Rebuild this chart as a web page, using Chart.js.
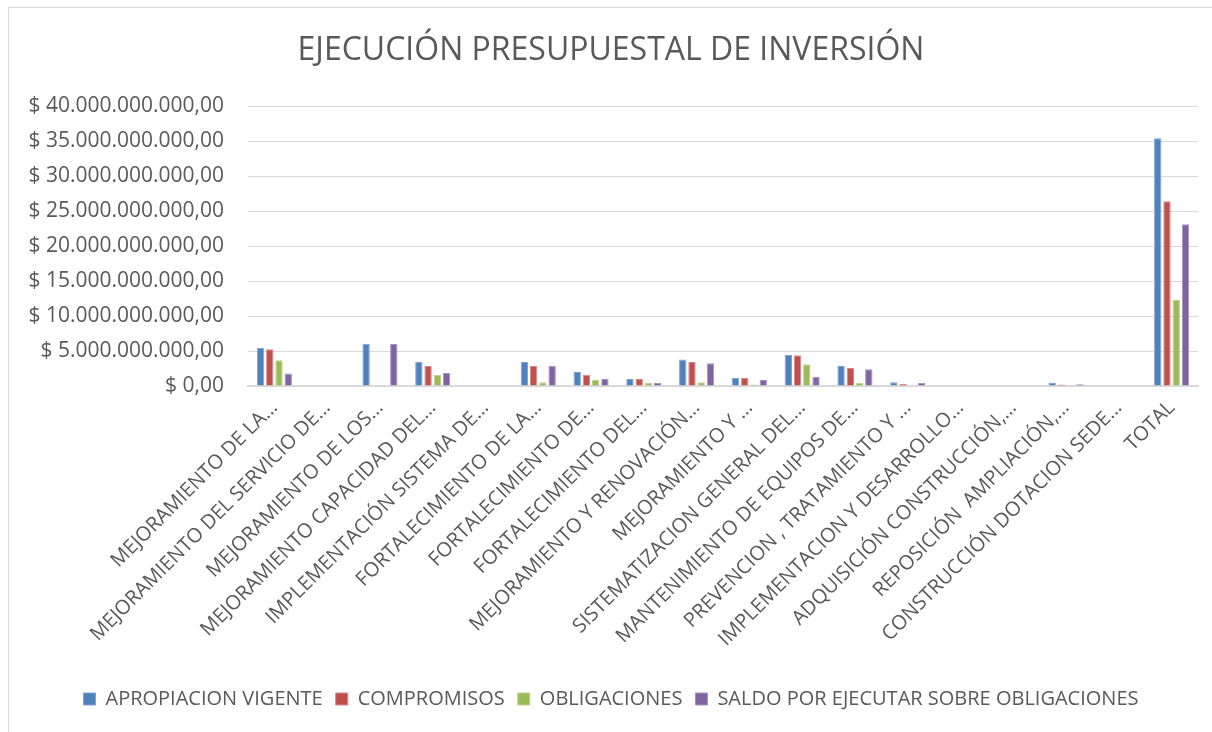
<!DOCTYPE html>
<html>
<head>
<meta charset="utf-8">
<title>Ejecución presupuestal de inversión</title>
<script src="https://cdn.jsdelivr.net/npm/chart.js@4.4.0/dist/chart.umd.min.js"></script>
<style>
    html, body { margin: 0; padding: 0; background: #fff; overflow: hidden; }
    .frame {
        position: absolute; left: 8px; top: 7px;
        width: 1240px; height: 760px;
        border: 1px solid #d9d9d9;
    }
    .wrap { position: absolute; left: 0; top: 0; width: 1212px; height: 732px; }
</style>
</head>
<body>
<div class="frame"></div>
<div class="wrap"><canvas id="inversionChart"></canvas></div>
<script>
// Chart data (pesos)
const categories = [
    'MEJORAMIENTO DE LA…',
    'MEJORAMIENTO DEL SERVICIO DE…',
    'MEJORAMIENTO DE LOS…',
    'MEJORAMIENTO CAPACIDAD DEL…',
    'IMPLEMENTACIÓN SISTEMA DE…',
    'FORTALECIMIENTO DE LA…',
    'FORTALECIMIENTO DE…',
    'FORTALECIMIENTO DEL…',
    'MEJORAMIENTO Y RENOVACIÓN…',
    'MEJORAMIENTO Y …',
    'SISTEMATIZACION GENERAL DEL…',
    'MANTENIMIENTO DE EQUIPOS DE…',
    'PREVENCION , TRATAMIENTO Y …',
    'IMPLEMENTACION Y DESARROLLO…',
    'ADQUISICIÓN CONSTRUCCIÓN,…',
    'REPOSICIÓN  AMPLIACIÓN,…',
    'CONSTRUCCIÓN DOTACION SEDE…',
    'TOTAL'
];
const apropiacion = [5470000000, 0, 6050000000, 3430000000, 0, 3430000000, 2000000000, 1000000000, 3800000000, 1140000000, 4430000000, 2860000000, 550000000, 0, 50000000, 430000000, 0, 35400000000];
const compromisos = [5240000000, 0, 0, 2860000000, 0, 2860000000, 1620000000, 1000000000, 3430000000, 1140000000, 4380000000, 2570000000, 300000000, 0, 0, 200000000, 0, 26400000000];
const obligaciones = [3670000000, 0, 0, 1570000000, 0, 520000000, 900000000, 480000000, 520000000, 200000000, 3100000000, 480000000, 40000000, 0, 0, 0, 0, 12300000000];
const saldo = [1800000000, 0, 6000000000, 1860000000, 0, 2910000000, 1050000000, 480000000, 3260000000, 850000000, 1330000000, 2380000000, 450000000, 0, 0, 250000000, 0, 23100000000];
const seriesNames = ['APROPIACION VIGENTE', 'COMPROMISOS', 'OBLIGACIONES', 'SALDO POR EJECUTAR SOBRE OBLIGACIONES'];
const yMax = 40000000000;
const yStep = 5000000000;

const grey = '#595959';
const fontFamily = '"Open Sans", sans-serif';

function pesos(v) {
    const s = Math.round(v).toString().replace(/\B(?=(\d{3})+(?!\d))/g, '.');
    return '$ ' + s + ',00';
}

function makeSet(label, values, fill, edge) {
    return {
        label: label,
        data: values,
        backgroundColor: fill,
        borderColor: edge,
        borderWidth: 1,
        categoryPercentage: 0.7,
        barPercentage: 0.8
    };
}

const ctx = document.getElementById('inversionChart').getContext('2d');
new Chart(ctx, {
    type: 'bar',
    data: {
        labels: categories,
        datasets: [
            makeSet(seriesNames[0], apropiacion, '#4F81BD', '#7FA3D0'),
            makeSet(seriesNames[1], compromisos, '#C0504D', '#D58886'),
            makeSet(seriesNames[2], obligaciones, '#9BBB59', '#BCD38E'),
            makeSet(seriesNames[3], saldo, '#8064A2', '#A891C2')
        ]
    },
    options: {
        responsive: true,
        maintainAspectRatio: false,
        animation: false,
        layout: {
            padding: { left: 24, right: 14, top: 22, bottom: 13 }
        },
        plugins: {
            title: {
                display: true,
                text: 'EJECUCIÓN PRESUPUESTAL DE INVERSIÓN',
                color: grey,
                font: { family: fontFamily, size: 32, weight: 'normal' },
                padding: { top: 10, bottom: 35.6 }
            },
            legend: {
                position: 'bottom',
                labels: {
                    color: grey,
                    font: { family: fontFamily, size: 20 },
                    boxWidth: 12,
                    boxHeight: 12,
                    padding: 13
                }
            },
            tooltip: { enabled: false }
        },
        scales: {
            x: {
                grid: { display: false },
                border: { display: true, color: '#d9d9d9', width: 2 },
                ticks: {
                    color: grey,
                    font: { family: fontFamily, size: 20 },
                    minRotation: 45,
                    maxRotation: 45,
                    autoSkip: false,
                    padding: 2
                },
                afterFit: function (scale) { scale.height = 290; }
            },
            y: {
                min: 0,
                max: yMax,
                grid: { color: '#d9d9d9', lineWidth: 1, drawTicks: false },
                border: { display: false },
                ticks: {
                    stepSize: yStep,
                    color: grey,
                    font: { family: fontFamily, size: 21 },
                    padding: 24,
                    callback: function (value) { return pesos(value); }
                },
                afterFit: function (scale) { scale.width = 224; }
            }
        }
    }
});
</script>
</body>
</html>
